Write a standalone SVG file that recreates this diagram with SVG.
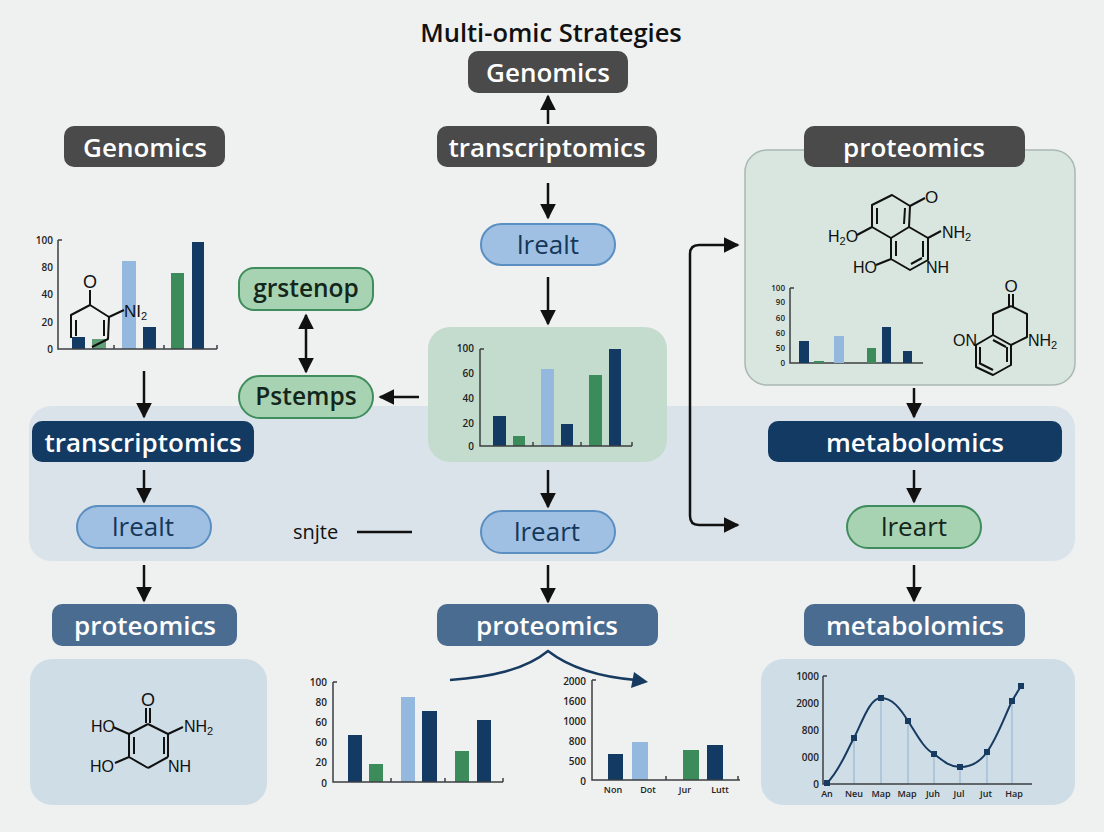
<svg xmlns="http://www.w3.org/2000/svg" width="1104" height="832" viewBox="0 0 1104 832">
<style>
text{font-family:"Open Sans","Liberation Sans",sans-serif}
.h{font-size:26px;font-weight:600;fill:#fff;text-anchor:middle}
.p{font-size:26px;font-weight:400;fill:#15375a;text-anchor:middle}
.g{font-size:24.5px;font-weight:600;fill:#14261c;text-anchor:middle}
.dk{fill:#4a4a4a}.nv{fill:#123a63}.sl{fill:#4b6c91}
.bp{fill:#9fc0e2;stroke:#5b8fc2;stroke-width:2}
.gp{fill:#a8d3b2;stroke:#3f8d5c;stroke-width:2}
.bn{fill:#123a63}.bg{fill:#3c8b5a}.bl{fill:#94b8de}
.ax{stroke:#3c3f42;stroke-width:1.5;fill:none}
.t{font-size:10px;font-weight:600;fill:#222;text-anchor:end}
.s{font-size:8px}
.tx{font-size:9px;font-weight:600;fill:#222;text-anchor:middle}
.b{stroke:#111;stroke-width:2;fill:none;stroke-linejoin:round}
.m{font-family:"Liberation Sans",Arial,sans-serif;font-size:16px;fill:#111}
.m tspan{font-size:11px}
.m tspan.r{font-size:16px}
.a{stroke:#111;stroke-width:2.5;fill:none}
</style>
<defs>
<marker id="ab" viewBox="0 0 10 10" refX="9" refY="5" markerWidth="16" markerHeight="16" markerUnits="userSpaceOnUse" orient="auto-start-reverse"><path d="M0,0L10,5L0,10Z" fill="#111"/></marker>
</defs>
<rect width="1104" height="832" fill="#eff0f0"/>
<rect id="band" x="29" y="406" width="1046" height="155" rx="22" fill="#dae3ea"/>
<text x="551" y="42" style="font-size:25.5px;font-weight:600;fill:#111;text-anchor:middle">Multi-omic Strategies</text>

<g id="panel-right"><rect x="745" y="150" width="330" height="235" rx="22" fill="#d8e6df" stroke="#aab8b2" stroke-width="1.5"/>
<path class="b" d="M892,195L910,206L909,227L891,238L872,227L872,205ZM909,227L928,238L928,260L910,270L891,259L891,238M910,206L925,198M905,208L904,224M877,208L877,224M896,241L896,256M923,241L923,257M911,264L922,258M857,235L872,227M876,265L891,259M928,238L941,231"/>
<text class="m" x="925" y="203" style="font-size:17px">O</text>
<text class="m" x="828" y="242">H<tspan dy="3">2</tspan><tspan class="r" dy="-3">O</tspan></text>
<text class="m" x="942" y="238">NH<tspan dy="3">2</tspan></text>
<text class="m" x="853" y="273">HO</text><text class="m" x="926" y="273">NH</text>
<path class="ax" d="M790,288V363H923M790,288H794"/>
<rect class="bn" x="799" y="341" width="10" height="22"/><rect class="bg" x="814" y="361" width="10" height="2"/><rect class="bl" x="834" y="336" width="10" height="27"/><rect class="bg" x="867" y="348" width="9" height="15"/><rect class="bn" x="882" y="327" width="9" height="36"/><rect class="bn" x="903" y="351" width="9" height="12"/>
<text class="t s" x="785" y="291">100</text><text class="t s" x="785" y="305">90</text><text class="t s" x="785" y="321">60</text><text class="t s" x="785" y="336">60</text><text class="t s" x="785" y="351">50</text><text class="t s" x="785" y="366">0</text>
<path class="b" d="M1009,294V307M1013,294V307M1011,306L1027,314V337L1011,345L993,335V314L1011,306M1011,345V365L993,375L976,367V345L993,335M1007,347V362M993,370L979,363M980,347V363M993,340L1006,347"/>
<text class="m" x="1011" y="292" text-anchor="middle" style="font-size:17px">O</text>
<text class="m" x="953" y="346">ON</text><text class="m" x="1028" y="346">NH<tspan dy="3">2</tspan></text>
</g>

<g id="node-genomics-top"><rect class="dk" x="468" y="51" width="160" height="42" rx="10"/><text class="h" x="548" y="82">Genomics</text></g>
<g id="node-genomics-left"><rect class="dk" x="64" y="126" width="161" height="41" rx="10"/><text class="h" x="145" y="157">Genomics</text></g>
<g id="node-transcriptomics-center"><rect class="dk" x="437" y="126" width="220" height="41" rx="10"/><text class="h" x="547" y="157">transcriptomics</text></g>
<g id="node-proteomics-right"><rect class="dk" x="804" y="126" width="221" height="41" rx="10"/><text class="h" x="914" y="157">proteomics</text></g>
<g id="node-lrealt-center"><rect class="bp" x="481" y="224" width="134" height="41" rx="20.5"/><text class="p" x="548" y="254">lrealt</text></g>
<g id="node-grstenop"><rect class="gp" x="239" y="268" width="134" height="42" rx="15"/><text class="g" x="306" y="297">grstenop</text></g>
<g id="node-pstemps"><rect class="gp" x="239" y="376" width="134" height="42" rx="21"/><text class="g" x="306" y="405">Pstemps</text></g>
<g id="node-transcriptomics-left"><rect class="nv" x="32" y="421" width="222" height="41" rx="10"/><text class="h" x="143" y="452">transcriptomics</text></g>
<g id="node-metabolomics-mid"><rect class="nv" x="768" y="421" width="294" height="41" rx="10"/><text class="h" x="915" y="452">metabolomics</text></g>
<g id="node-lrealt-left"><rect class="bp" x="77" y="506" width="134" height="42" rx="21"/><text class="p" x="143" y="536">lrealt</text></g>
<g id="node-lreart-center"><rect class="bp" x="481" y="511" width="134" height="42" rx="21"/><text class="p" x="547" y="541">lreart</text></g>
<g id="node-lreart-right"><rect class="gp" x="847" y="506" width="134" height="42" rx="21"/><text class="g" x="914" y="536" style="font-size:26px;font-weight:400">lreart</text></g>
<g id="node-proteomics-left"><rect class="sl" x="52" y="604" width="185" height="42" rx="10"/><text class="h" x="145" y="635">proteomics</text></g>
<g id="node-proteomics-center"><rect class="sl" x="437" y="604" width="221" height="42" rx="10"/><text class="h" x="547" y="635">proteomics</text></g>
<g id="node-metabolomics-right"><rect class="sl" x="804" y="604" width="221" height="42" rx="10"/><text class="h" x="915" y="635">metabolomics</text></g>

<g id="chart-left">
<rect class="bn" x="72" y="337" width="13" height="12"/><rect class="bg" x="92" y="339" width="14" height="10" opacity=".8"/><rect class="bl" x="122" y="261" width="14" height="88"/><rect class="bn" x="143" y="327" width="13" height="22"/><rect class="bg" x="171" y="273" width="13" height="76"/><rect class="bn" x="192" y="242" width="12" height="107"/>
<path class="ax" d="M58,240V349H217M58,240H62M114,349V345M164,349V345M217,349V345"/>
<text class="t" x="53" y="244">100</text><text class="t" x="53" y="271">80</text><text class="t" x="53" y="298">40</text><text class="t" x="53" y="326">20</text><text class="t" x="53" y="353">0</text>
<path class="b" d="M90,290V305M71,338V315L90,305L109,317L108,339L92,347M76,320V336M104,320V336M109,317L124,310"/>
<text class="m" x="90" y="288" text-anchor="middle" style="font-size:18px">O</text>
<text class="m" x="124" y="317" style="font-size:17px">NI<tspan dy="3">2</tspan></text>
</g>

<g id="chart-center"><rect x="428" y="327" width="239" height="135" rx="22" fill="#c4dccd"/>
<rect class="bn" x="493" y="416" width="13" height="30"/><rect class="bg" x="513" y="436" width="12" height="10"/><rect class="bl" x="541" y="369" width="13" height="77"/><rect class="bn" x="561" y="424" width="12" height="22"/><rect class="bg" x="589" y="375" width="13" height="71"/><rect class="bn" x="609" y="349" width="12" height="97"/>
<path class="ax" d="M480,349V446H632M480,349H484M533,446V442M581,446V442M632,446V442"/>
<text class="t" x="474" y="352">100</text><text class="t" x="474" y="377">60</text><text class="t" x="474" y="402">40</text><text class="t" x="474" y="427">20</text><text class="t" x="474" y="450">0</text>
</g>

<text x="293" y="539" style="font-size:20px;fill:#111">snjte</text>

<g id="panel-bottom-left"><rect x="30" y="659" width="237" height="146" rx="22" fill="#cfdde7"/>
<path class="b" d="M146,708V723M150,708V723M148,724L168,734V757M148,768L129,757V734L148,724M148,768L168,757M134,737V754M164,737V754M113,727L129,734M115,763L129,757M183,727L168,734"/>
<text class="m" x="148" y="706" text-anchor="middle" style="font-size:18px">O</text>
<text class="m" x="91" y="732">HO</text><text class="m" x="90" y="772">HO</text><text class="m" x="184" y="732">NH<tspan dy="3">2</tspan></text><text class="m" x="168" y="772">NH</text>
</g>

<g id="chart-bottom-a">
<rect class="bn" x="348" y="735" width="14" height="47"/><rect class="bg" x="369" y="764" width="14" height="18"/><rect class="bl" x="401" y="697" width="14" height="85"/><rect class="bn" x="422" y="711" width="15" height="71"/><rect class="bg" x="455" y="751" width="14" height="31"/><rect class="bn" x="477" y="720" width="14" height="62"/>
<path class="ax" d="M333,682V782H503M333,682H337M391,782V778M445,782V778M503,782V778"/>
<text class="t" x="327" y="686">100</text><text class="t" x="327" y="706">80</text><text class="t" x="327" y="726">60</text><text class="t" x="327" y="746">60</text><text class="t" x="327" y="766">20</text><text class="t" x="327" y="787">0</text>
</g>
<g id="chart-bottom-b">
<rect class="bn" x="608" y="754" width="15" height="26"/><rect class="bl" x="632" y="742" width="16" height="38"/><rect class="bg" x="683" y="750" width="16" height="30"/><rect class="bn" x="707" y="745" width="16" height="35"/>
<path class="ax" d="M592,680V780H740M592,680H596M666,780V776M738,780V776"/>
<text class="t" x="586" y="685">2000</text><text class="t" x="586" y="705">1600</text><text class="t" x="586" y="725">1000</text><text class="t" x="586" y="745">800</text><text class="t" x="586" y="765">500</text><text class="t" x="586" y="785">0</text>
<text class="tx" x="613" y="793">Non</text><text class="tx" x="648" y="793">Dot</text><text class="tx" x="685" y="793">Jur</text><text class="tx" x="720" y="793">Lutt</text>
</g>

<g id="chart-bottom-c"><rect x="761" y="659" width="314" height="146" rx="22" fill="#cfdde7"/>
<path d="M854,738V784M881,698V784M908,721V784M934,754V784M960,767V784M987,752V784M1012,701V784" stroke="#8fb0cf" stroke-width="1" fill="none"/>
<path class="ax" d="M823,676V784H1032M823,676H827"/>
<path d="M827,783C840,770 846,752 854,738C863,720 870,698 881,698C892,698 900,708 908,721C916,733 923,748 934,754C943,761 950,767 960,767C970,767 980,762 987,752C997,738 1004,718 1012,701L1021,686" fill="none" stroke="#163a60" stroke-width="2"/>
<g fill="#163a60"><rect x="824" y="780" width="6" height="6"/><rect x="851" y="735" width="6" height="6"/><rect x="878" y="695" width="6" height="6"/><rect x="905" y="718" width="6" height="6"/><rect x="931" y="751" width="6" height="6"/><rect x="957" y="764" width="6" height="6"/><rect x="984" y="749" width="6" height="6"/><rect x="1009" y="698" width="6" height="6"/><rect x="1018" y="683" width="6" height="6"/></g>
<text class="t" x="819" y="680">1000</text><text class="t" x="819" y="707">2000</text><text class="t" x="819" y="734">800</text><text class="t" x="819" y="761">000</text><text class="t" x="819" y="788">0</text>
<text class="tx" x="827" y="797">An</text><text class="tx" x="854" y="797">Neu</text><text class="tx" x="881" y="797">Map</text><text class="tx" x="907" y="797">Map</text><text class="tx" x="933" y="797">Juh</text><text class="tx" x="959" y="797">Jul</text><text class="tx" x="986" y="797">Jut</text><text class="tx" x="1014" y="797">Hap</text>
</g>

<g id="connectors">
<path class="a" marker-end="url(#ab)" d="M548,124V96"/>
<path class="a" marker-end="url(#ab)" d="M548,183V218"/>
<path class="a" marker-end="url(#ab)" d="M548,277V324"/>
<path class="a" marker-start="url(#ab)" marker-end="url(#ab)" d="M306,315V372"/>
<path class="a" marker-end="url(#ab)" d="M419,397H380"/>
<path class="a" marker-end="url(#ab)" d="M548,470V507"/>
<path class="a" marker-end="url(#ab)" d="M548,565V602"/>
<path class="a" marker-end="url(#ab)" d="M144,371V417"/>
<path class="a" marker-end="url(#ab)" d="M144,470V502"/>
<path class="a" marker-end="url(#ab)" d="M144,565V601"/>
<path class="a" marker-end="url(#ab)" d="M914,388V417"/>
<path class="a" marker-end="url(#ab)" d="M914,470V502"/>
<path class="a" marker-end="url(#ab)" d="M914,565V601"/>
<path class="a" marker-end="url(#ab)" d="M690,385V254Q690,245 699,245H738"/>
<path class="a" marker-end="url(#ab)" d="M690,385V516Q690,525 699,525H738"/>
<path class="a" d="M357,532H412"/>
<path d="M450,680C490,677 525,670 548,651C570,668 600,677 636,680" fill="none" stroke="#163a60" stroke-width="2.5"/>
<path d="M648,682L634,672L631,688Z" fill="#163a60"/>
</g>
</svg>
